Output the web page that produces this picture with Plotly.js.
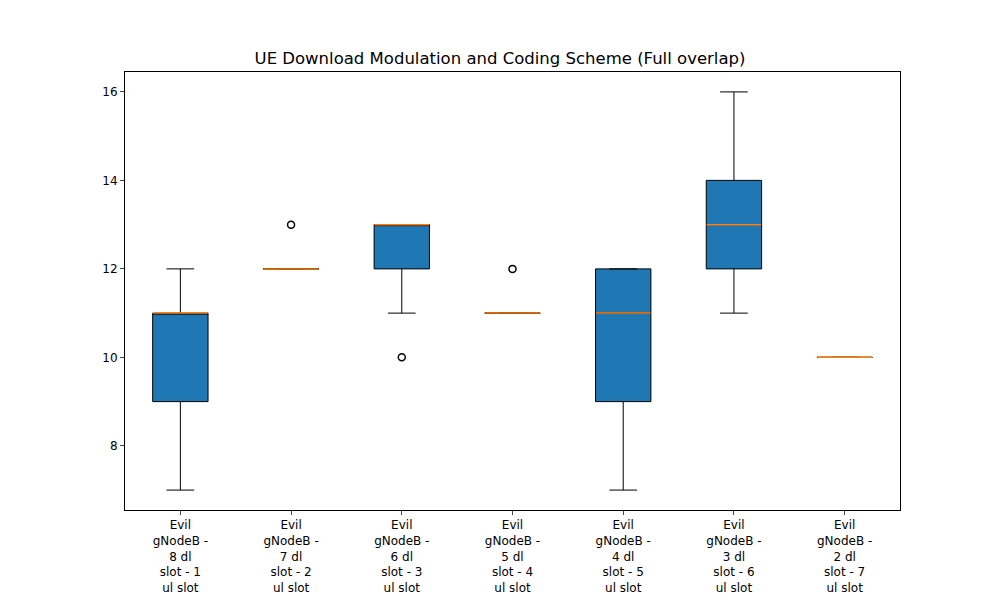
<!DOCTYPE html>
<html>
<head>
<script src="https://cdn.plot.ly/plotly-3.0.1.min.js"></script>
<style>body{margin:0;background:#fff}</style>
</head>
<body>
<div id="chart" style="width:1000px;height:600px"></div>
<script>
const categories = [
  'Evil<br>gNodeB -<br>8 dl<br>slot - 1<br>ul slot',
  'Evil<br>gNodeB -<br>7 dl<br>slot - 2<br>ul slot',
  'Evil<br>gNodeB -<br>6 dl<br>slot - 3<br>ul slot',
  'Evil<br>gNodeB -<br>5 dl<br>slot - 4<br>ul slot',
  'Evil<br>gNodeB -<br>4 dl<br>slot - 5<br>ul slot',
  'Evil<br>gNodeB -<br>3 dl<br>slot - 6<br>ul slot',
  'Evil<br>gNodeB -<br>2 dl<br>slot - 7<br>ul slot'
];
const lowerWhisker = [7, 12, 11, 11, 7, 11, 10];
const q1Values = [9, 12, 12, 11, 9, 12, 10];
const medianValues = [11, 12, 13, 11, 11, 13, 10];
const q3Values = [11, 12, 13, 11, 12, 14, 10];
const upperWhisker = [12, 12, 13, 11, 12, 16, 10];
const outlierCats = [categories[1], categories[2], categories[3]];
const outlierValues = [13, 10, 12];

const boxes = {
  type: 'box',
  x: categories,
  lowerfence: lowerWhisker,
  q1: q1Values,
  median: medianValues,
  q3: q3Values,
  upperfence: upperWhisker,
  fillcolor: '#1f77b4',
  line: { color: '#000', width: 1 },
  whiskerwidth: 0.5,
  width: 0.5,
  boxpoints: false,
  hoverinfo: 'skip',
  showlegend: false
};
const medians = {
  type: 'scatter', mode: 'markers',
  x: categories, y: medianValues,
  marker: { symbol: 'line-ew-open', size: 39, line: { color: '#c8956b', width: 1.5 } },
  showlegend: false
};
const outliers = {
  type: 'scatter', mode: 'markers',
  x: outlierCats, y: outlierValues,
  marker: { symbol: 'circle-open', size: 7, color: '#000', line: { width: 1.5, color: '#000' } },
  showlegend: false
};

Plotly.newPlot('chart', [boxes, medians, outliers], {
  width: 1000, height: 600,
  paper_bgcolor: '#fff', plot_bgcolor: '#fff',
  font: { family: 'DejaVu Sans', size: 12, color: '#000' },
  margin: { l: 125, r: 100, t: 72, b: 90 },
  title: { text: 'UE Download Modulation and Coding Scheme (Full overlap)', x: 0.5, y: 0.903, yanchor: 'middle', font: { size: 16.5 } },
  xaxis: { range: [-0.5, 6.5], showline: true, mirror: true, linecolor: '#000', ticks: 'outside', ticklen: 4, showgrid: false, tickfont: { size: 12 } },
  yaxis: { range: [6.55, 16.45], dtick: 2, showline: true, mirror: true, linecolor: '#000', ticks: 'outside', ticklen: 4, showgrid: false, zeroline: false }
}, { displayModeBar: false });
</script>
</body>
</html>
